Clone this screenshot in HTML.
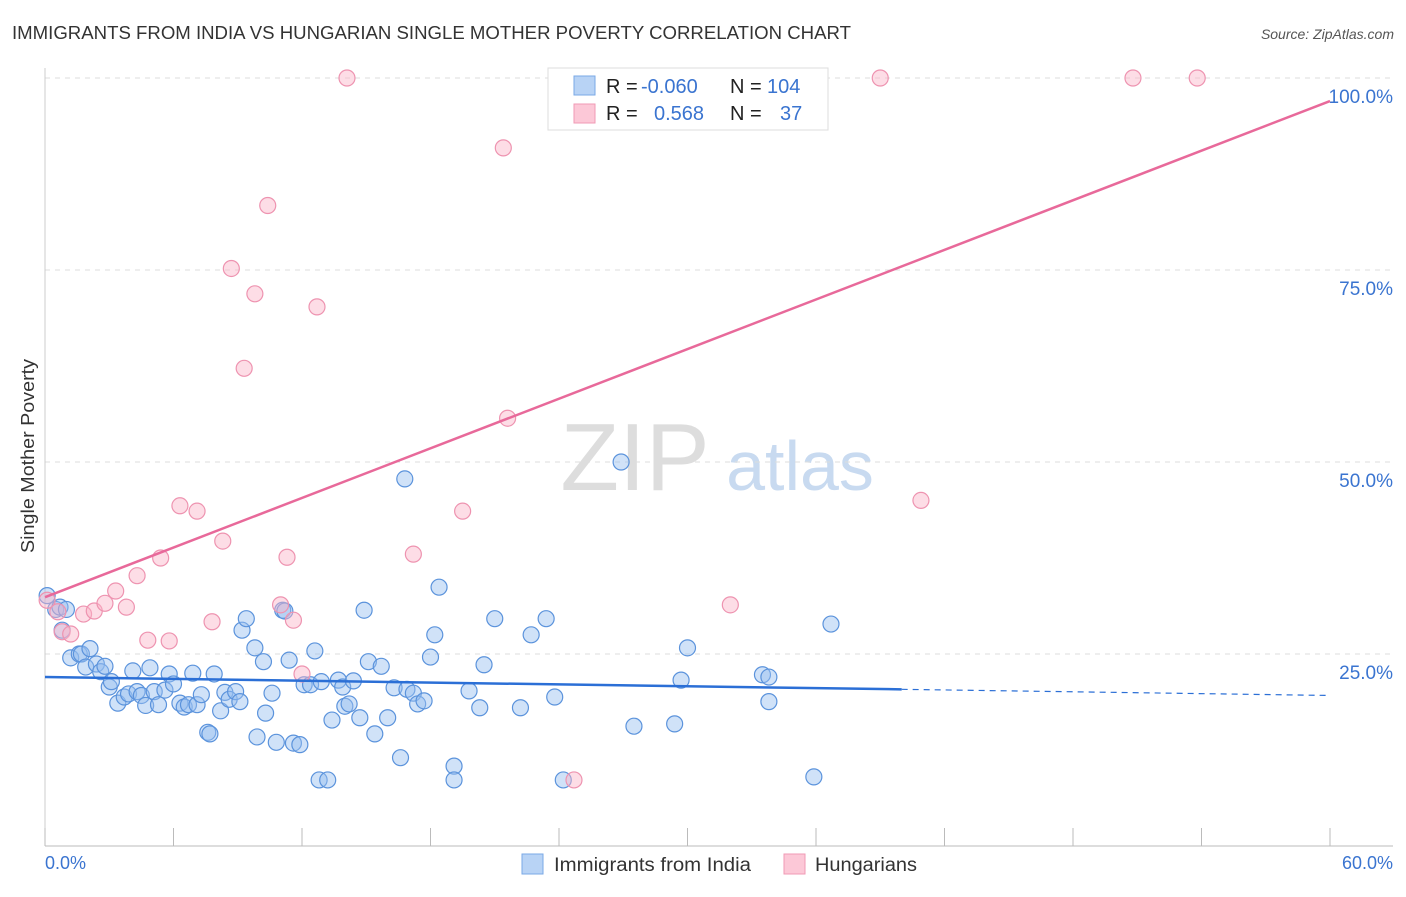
<!DOCTYPE html>
<html><head><meta charset="utf-8"><style>
body{margin:0;background:#fff;font-family:"Liberation Sans",sans-serif}
svg text{font-family:"Liberation Sans",sans-serif}
</style></head><body>
<svg id="c" width="1406" height="892">
<text x="12" y="39" font-size="18" fill="#333" textLength="839" lengthAdjust="spacingAndGlyphs">IMMIGRANTS FROM INDIA VS HUNGARIAN SINGLE MOTHER POVERTY CORRELATION CHART</text>
<text x="1394" y="39" font-size="14" fill="#555" font-style="italic" text-anchor="end">Source: ZipAtlas.com</text>
<text x="34" y="456" font-size="18" fill="#333" transform="rotate(-90 34 456)" text-anchor="middle" textLength="194" lengthAdjust="spacingAndGlyphs">Single Mother Poverty</text>
<text x="635" y="490" font-size="96" fill="#ddd" font-family="Liberation Serif" text-anchor="middle">ZIP</text>
<text x="800" y="490" font-size="70" fill="#c8daf0" text-anchor="middle">atlas</text>
<g id="grid"></g><g id="pts"></g><g id="trend"></g>
<g>
<rect x="548" y="68" width="280" height="62" fill="#fff" stroke="#ddd"/>
<rect x="574" y="76" width="21" height="19" fill="#b8d3f5" stroke="#7aa8e6"/>
<rect x="574" y="104" width="21" height="19" fill="#fcc8d7" stroke="#f09ab4"/>
<text x="606" y="93" font-size="20" fill="#222">R = <tspan x="641" fill="#3a74d0">-0.060</tspan><tspan x="730">N = </tspan><tspan x="767" fill="#3a74d0">104</tspan></text>
<text x="606" y="120" font-size="20" fill="#222">R = <tspan x="654" fill="#3a74d0">0.568</tspan><tspan x="730">N = </tspan><tspan x="780" fill="#3a74d0">37</tspan></text>
</g>
<g>
<rect x="522" y="854" width="21" height="20" fill="#b8d3f5" stroke="#7aa8e6"/>
<text x="554" y="871" font-size="19" fill="#333" textLength="197" lengthAdjust="spacingAndGlyphs">Immigrants from India</text>
<rect x="784" y="854" width="21" height="20" fill="#fcc8d7" stroke="#f09ab4"/>
<text x="815" y="871" font-size="19" fill="#333" textLength="102" lengthAdjust="spacingAndGlyphs">Hungarians</text>
</g>
<text x="45" y="869" font-size="18" fill="#3a74d0">0.0%</text>
<text x="1393" y="869" font-size="18" fill="#3a74d0" text-anchor="end">60.0%</text>
</svg>
<script>
const yTicks=[25,50,75,100];
const xTicks=[0,6,12,18,24,30,36,42,48,54,60];
const blueX=[0.1,0.5,0.7,1,0.8,1.2,1.6,1.7,2.1,1.9,2.4,2.6,2.8,3,3.1,3.4,3.7,3.9,4.1,4.3,4.5,4.7,4.9,5.1,5.3,5.6,5.8,6,6.3,6.5,6.7,6.9,7.1,7.3,7.6,7.7,7.9,8.2,8.4,8.6,8.9,9.1,9.2,9.4,9.8,9.9,10.2,10.3,10.6,10.8,11.1,11.2,11.4,11.6,11.9,12.1,12.4,12.6,12.8,12.9,13.2,13.4,13.7,13.9,14,14.2,14.4,14.7,14.9,15.1,15.4,15.7,16,16.3,16.6,16.9,16.8,17.2,17.4,17.7,18,18.2,18.4,19.1,19.1,19.8,20.3,20.5,21,22.2,22.7,23.4,23.8,24.2,26.9,27.5,29.4,29.7,30,33.5,33.8,33.8,35.9,36.7];
const blueY=[32.6,30.8,31.1,30.8,28.1,24.5,25,25,25.7,23.3,23.7,22.7,23.4,20.7,21.4,18.6,19.4,19.8,22.8,20.1,19.6,18.3,23.2,20.1,18.4,20.3,22.4,21.1,18.6,18.1,18.4,22.5,18.4,19.7,14.8,14.6,22.4,17.6,20,19.1,20.1,18.8,28.1,29.6,25.8,14.2,24,17.3,19.9,13.5,30.7,30.6,24.2,13.4,13.2,21,21,25.4,8.6,21.4,8.6,16.4,21.6,20.7,18.2,18.5,21.5,16.7,30.7,24,14.6,23.4,16.7,20.6,11.5,20.4,47.8,19.9,18.5,18.9,24.6,27.5,33.7,10.4,8.6,20.2,18,23.6,29.6,18,27.5,29.6,19.4,8.6,50,15.6,15.9,21.6,25.8,22.3,22,18.8,9,28.9];
const pinkX=[0.1,0.6,0.8,1.2,1.8,2.3,2.8,3.3,3.8,4.3,4.8,5.4,5.8,6.3,7.1,7.8,8.3,8.7,9.8,9.3,10.4,11,11.3,11.6,12,12.7,14.1,17.2,19.5,21.4,21.6,24.7,32,39,40.9,50.8,53.8];
const pinkY=[32,30.5,27.9,27.6,30.2,30.6,31.6,33.2,31.1,35.2,26.8,37.5,26.7,44.3,43.6,29.2,39.7,75.2,71.9,62.2,83.4,31.4,37.6,29.4,22.4,70.2,100,38,43.6,90.9,55.7,8.6,31.4,100,45,100,100];
const blueTrend=[[0,22],[40,20.4]], blueDash=[[40,20.4],[60,19.6]];
const pinkTrend=[[0,32.4],[60,97]];
const X=v=>45+v/60*1285, Y=v=>846-v/100*768;
const NS="http://www.w3.org/2000/svg";
function mk(t,a,p){const e=document.createElementNS(NS,t);for(const k in a)e.setAttribute(k,a[k]);p.appendChild(e);return e;}
const g=document.getElementById('grid');
yTicks.forEach(t=>{const l=mk('line',{x1:45,x2:1393,y1:Y(t),y2:Y(t),stroke:'#ddd','stroke-dasharray':'5,5'},g);


const tx=mk('text',{x:1393,y:Y(t)+25,'font-size':19,fill:'#3a74d0','text-anchor':'end'},g);tx.textContent=t.toFixed(1)+'%';

});
const ax=mk('line',{x1:45,x2:1393,y1:846,y2:846,stroke:'#bbb'},g);


const ay=mk('line',{x1:45,x2:45,y1:68,y2:846,stroke:'#ccc'},g);


xTicks.forEach(t=>{const l=mk('line',{x1:X(t),x2:X(t),y1:828,y2:846,stroke:'#bbb'},g);

});
const p=document.getElementById('pts');
blueX.forEach((v,i)=>{const c=mk('circle',{cx:X(v),cy:Y(blueY[i]),r:8,fill:'rgba(150,190,240,0.45)',stroke:'#5b93dc','stroke-width':1.2},p);

});
pinkX.forEach((v,i)=>{const c=mk('circle',{cx:X(v),cy:Y(pinkY[i]),r:8,fill:'rgba(250,180,200,0.45)',stroke:'#ee93b0','stroke-width':1.2},p);

});
const tr=document.getElementById('trend');
let l1=mk('line',{x1:X(blueTrend[0][0]),y1:Y(blueTrend[0][1]),x2:X(blueTrend[1][0]),y2:Y(blueTrend[1][1]),stroke:'#2b6fd6','stroke-width':2.5},tr);


let l2=mk('line',{x1:X(blueDash[0][0]),y1:Y(blueDash[0][1]),x2:X(blueDash[1][0]),y2:Y(blueDash[1][1]),stroke:'#2b6fd6','stroke-width':1.2,'stroke-dasharray':'6,5'},tr);


let l3=mk('line',{x1:X(pinkTrend[0][0]),y1:Y(pinkTrend[0][1]),x2:X(pinkTrend[1][0]),y2:Y(pinkTrend[1][1]),stroke:'#e8699a','stroke-width':2.5},tr);


</script>
</body></html>
